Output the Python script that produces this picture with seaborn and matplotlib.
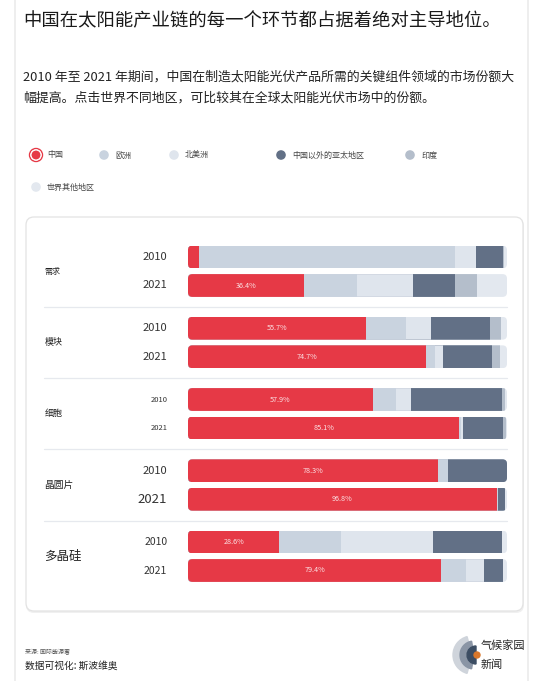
import numpy as np
import pandas as pd
import matplotlib
matplotlib.use("Agg")
import matplotlib.pyplot as plt
import seaborn as sns
from matplotlib.patches import FancyBboxPatch, Circle, Wedge
from matplotlib.transforms import IdentityTransform

# data (market share %, each row sums to 100)
stages = ['需求', '模块', '细胞', '晶圆片', '多晶硅']
years = ['2010', '2021']
regions = ['中国', '欧洲', '北美洲', '中国以外的亚太地区', '印度', '世界其他地区']
colors = ['#e63946', '#c9d3df', '#dfe5ed', '#627086', '#b4becb', '#e3e8ef']

china = [3.5, 36.4, 55.7, 74.7, 57.9, 85.1, 78.3, 96.8, 28.6, 79.4]
europe = [80.3, 16.6, 12.7, 2.8, 7.4, 0.5, 3.2, 0.3, 19.5, 7.9]
north_america = [6.5, 17.6, 7.7, 2.4, 4.6, 0.5, 0.0, 0.0, 28.7, 5.5]
asia_pacific = [8.4, 13.1, 18.6, 15.5, 28.4, 12.5, 18.5, 2.3, 21.6, 6.1]
india = [0.3, 7.0, 3.5, 2.5, 1.2, 1.0, 0.0, 0.0, 0.0, 0.0]
rest = [1.0, 9.3, 1.8, 2.1, 0.5, 0.4, 0.0, 0.6, 1.6, 1.1]

title = '中国在太阳能产业链的每一个环节都占据着绝对主导地位。'
subtitle = ['2010 年至 2021 年期间，中国在制造太阳能光伏产品所需的关键组件领域的市场份额大',
            '幅提高。点击世界不同地区，可比较其在全球太阳能光伏市场中的份额。']

sns.set_style('white')
plt.rcParams['font.family'] = ['Noto Sans CJK SC', 'DejaVu Sans']

#build long table with cumulative values so bars can be overlaid as a stack
shares = np.array([china, europe, north_america, asia_pacific, india, rest])
cum = np.cumsum(shares, axis=0)
positions = [(k // 2) * 2.5 + k % 2 for k in range(len(china))]
rows = []
for k, pos in enumerate(positions):
    for r, reg in enumerate(regions):
        rows.append({'pos': pos, 'region': reg, 'cum': cum[r, k],
                     'stage': stages[k // 2], 'year': years[k % 2]})
df = pd.DataFrame(rows)

fig = plt.figure(figsize=(5.55, 6.81), dpi=100)
W, H = 555, 681

#background axes in pixel units for card, frame, texts
bg = fig.add_axes([0, 0, 1, 1], zorder=0)
bg.set_xlim(0, W)
bg.set_ylim(H, 0)
bg.axis('off')
bg.plot([15, 15], [0, H], color='#ebebeb', lw=1.2)
bg.plot([528, 528], [0, H], color='#ebebeb', lw=1.2)
bg.add_patch(FancyBboxPatch((26, 218), 498, 395, boxstyle='round,pad=0,rounding_size=8',
                            fc='#f0f0f0', ec='none'))
bg.add_patch(FancyBboxPatch((26, 217), 497, 394, boxstyle='round,pad=0,rounding_size=8',
                            fc='white', ec='#e3e3e3', lw=0.9))

bg.text(23, 21, title, fontsize=13.2, color='#1a1a1a', va='center')
bg.text(23, 77, subtitle[0], fontsize=9.3, color='#222222', va='center')
bg.text(23, 98, subtitle[1], fontsize=9.3, color='#222222', va='center')

#legend
leg_pos = [(36, 155), (104, 155), (174, 155), (281, 155), (410, 155), (36, 187)]
for (lx, ly), reg, col in zip(leg_pos, regions, colors):
    if reg == '中国':
        bg.add_patch(Circle((lx, ly), 6.5, fc='none', ec=col, lw=1.0))
        bg.add_patch(Circle((lx, ly), 5.0, fc=col, ec='white', lw=0.8))
    else:
        bg.add_patch(Circle((lx, ly), 4.8, fc=col, ec='none'))
    bg.text(lx + 11, ly, reg, fontsize=5.8, color='#444444', va='center')

#footer
bg.text(25, 651, '来源: 国际能源署', fontsize=4.3, color='#555555', va='center')
bg.text(25, 666, '数据可视化: 斯波维奥', fontsize=7, color='#222222', va='center')
bg.add_patch(Wedge((472, 655), 19, 105, 255, width=6, color='#cfd4db'))
bg.add_patch(Wedge((474, 655), 14, 100, 260, width=6, color='#8a95a5'))
bg.add_patch(Wedge((476, 655), 9, 90, 270, color='#3c4d63'))
bg.add_patch(Circle((477, 655), 3, color='#d9772b'))
bg.text(481, 646, '气候家园', fontsize=8, color='#222222', va='center')
bg.text(481, 665, '新闻', fontsize=8, color='#222222', va='center')

#bars axes
ax = fig.add_axes([188 / W, 1 - 600 / H, 319 / W, 370 / H], zorder=1)
ax.set_facecolor('none')
sns.barplot(data=df, x='cum', y='pos', hue='region', hue_order=regions[::-1],
            palette=dict(zip(regions, colors)), orient='h', native_scale=True,
            dodge=False, width=0.8, errorbar=None, saturation=1, legend=False,
            linewidth=0, ax=ax)
ax.set_xlim(0, 100)
ax.set_ylim((600 - 257) / 28.5, (230 - 257) / 28.5)
ax.axis('off')

#round the ends of each bar by clipping to a rounded track (in pixels)
clips = {}
for pos in positions:
    (x0, y0), (x1, y1) = ax.transData.transform([(0, pos - 0.4), (100, pos + 0.4)])
    xa, xb = min(x0, x1), max(x0, x1)
    ya, yb = min(y0, y1), max(y0, y1)
    clips[pos] = FancyBboxPatch((xa, ya), xb - xa, yb - ya,
                                boxstyle='round,pad=0,rounding_size=4.5',
                                transform=IdentityTransform())
for p in ax.patches:
    yc = p.get_y() + p.get_height() / 2
    near = min(positions, key=lambda v: abs(v - yc))
    p.set_clip_on(True)
    p.set_clip_path(clips[near])

#percentage labels on the China segment
for v, pos in zip(china, positions):
    if v >= 20:
        ax.text(v / 2, pos, f'{v}%', fontsize=5.2, color='#fbe3e5',
                ha='center', va='center')

#stage / year labels and separators
lab = ax.get_yaxis_transform()
stage_sizes = [5.8, 6.5, 6.5, 7, 9]
year_sizes = [8, 8, 8, 8, 5.5, 5.5, 8, 9.5, 7.5, 7.5]
for i, st in enumerate(stages):
    mid = (positions[2 * i] + positions[2 * i + 1]) / 2
    ax.text(-0.45, mid, st, transform=lab, fontsize=stage_sizes[i], color='#222222',
            va='center', ha='left', clip_on=False)
    if i < len(stages) - 1:
        sep = (positions[2 * i + 1] + positions[2 * i + 2]) / 2
        ax.plot([-0.45, 1.0], [sep, sep], transform=lab, color='#e6e9ee', lw=0.9,
                clip_on=False)
for k, pos in enumerate(positions):
    ax.text(-0.065, pos, years[k % 2], transform=lab, fontsize=year_sizes[k],
            color='#333333', va='center', ha='right', fontweight='medium', clip_on=False)

plt.savefig('out.png', dpi=100)
